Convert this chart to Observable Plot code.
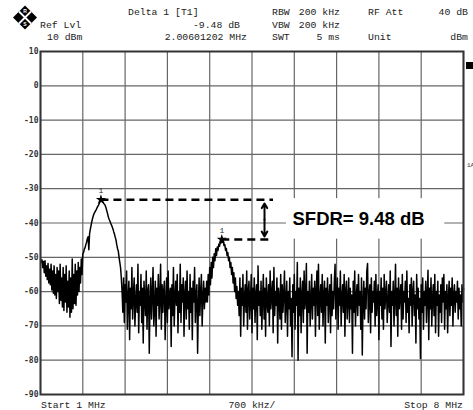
<!DOCTYPE html>
<html><head><meta charset="utf-8">
<script src="https://cdn.jsdelivr.net/npm/d3@7"></script>
<script src="https://cdn.jsdelivr.net/npm/@observablehq/plot@0.6"></script>
<style>
body{margin:0;background:#fff}
#chart{position:relative;width:473px;height:410px}
</style>
</head><body><div id="chart"></div>
<script>
// Sweep: 1 MHz to 8 MHz, 561 trace points
const startMHz = 1, stopMHz = 8, sweepPoints = 561;
// Trace levels (dBm), segment by segment
const leftSkirtLevels = [
 -50.5,-51.5,-50.8,-53,-51.2,-54.5,-51,-55.5,-52.5,-56.5,
 -51.8,-57.5,-53.5,-58,-52,-59.5,-54,-60.5,-52.5,-61,
 -55,-62,-53,-60,-54,-63.5,-52,-62.5,-56,-64.5,
 -53,-65.5,-55,-63,-52.5,-66,-57,-64.5,-54,-67.5,
 -56,-66,-50.5,-65,-55,-63.5,-52,-64,-54,-61,
 -51.5,-60,-53,-57.5,-50.5,-55];
const carrierLevels = [
 -49,-48.6,-47.6,-47.2,-46.3,-45.6,-44.6,-44,-47.8,-43,
 -41.8,-40.6,-39.5,-38.6,-37.8,-37.2,-36.8,-36.4,-36,-35.5,
 -35.1,-34.7,-34.2,-33.7,-33.2,-33.5,-33.8,-34,-34.4,-34.6,
 -35.1,-35.8,-36.6,-37.5,-38.4,-39,-39.5,-40.1,-40.6,-41.2,
 -41.8,-42.6,-43.3,-44.2,-45,-46.4,-47.5,-48.2,-50,-51.5,
 -53,-56];
const noiseLevelsA = [
 -60,-66,-56,-69,-58,-63,-54,-71,
 -62,-57,-74,-59,-65,-53,-68,-61,
 -56,-70,-63,-58,-66,-52,-72,-60,
 -64,-55,-69,-59,-75,-57,-62,-67,
 -54,-71,-60,-58,-78,-63,-56,-68,
 -61,-53,-70,-65,-57,-73,-59,-64,
 -55,-68,-62,-52,-71,-58,-66,-60,
 -57,-74,-63,-56,-69,-54,-65,-61,
 -59,-76,-58,-67,-53,-70,-62,-57,
 -64,-55,-72,-60,-66,-52,-69,-58,
 -63,-56,-73,-61,-57,-68,-54,-65,
 -60,-71,-55,-66,-59,-74,-57,-63,
 -53,-69,-61,-58,-78,-64,-56,-67,
 -60,-55,-70,-62,-57,-65,-59,-63];
const harmonicLevels = [
 -57,-63,-55,-61,-53,-58,-51.5,-56,-50,-53,
 -49,-51,-47.5,-49.5,-47,-48,-46.2,-46.8,-45.6,-45.8,
 -44.8,-45.6,-45.4,-46.6,-46.3,-48,-47.4,-49.5,-48.6,-51,
 -50,-53,-51.5,-55,-53,-57.5,-54.5,-60,-56,-62,
 -58.5,-64];
const noiseLevelsB = [
 -60,-67,-56,-73,-59,-64,-55,-70,-62,-58,
 -66,-54,-71,-60,-57,-68,-63,-55,-72,-59,
 -65,-56,-69,-61,-58,-74,-52.5,-64,-60,-67,
 -57,-71,-62,-55,-68,-59,-73,-56,-63,-66,
 -58,-70,-54,-65,-61,-57,-72,-53,-67,-60,
 -64,-56,-75,-59,-62,-68,-55,-71,-58,-66,
 -61,-54,-69,-63,-57,-73,-60,-65,-56,-70,
 -62,-79,-58,-66,-55,-71,-60,-64,-51.5,-80,
 -59,-67,-56,-72,-61,-57,-69,-54,-65,-62,
 -51.8,-78,-60,-66,-57,-70,-63,-55,-68,-59,
 -64,-57,-73,-60,-54,-67,-52,-71,-62,-58,
 -66,-55,-70,-61,-57,-75,-59,-64,-56,-69,
 -62,-58,-72,-55,-67,-60,-65,-57,-52,-68,
 -61,-56,-71,-59,-64,-54,-70,-62,-58,-66,
 -55,-73,-60,-57,-68,-63,-56,-69,-59,-65,
 -61,-78,-57,-66,-54,-70,-62,-58,-67,-55,
 -64,-60,-71,-56,-78.5,-63,-57,-68,-59,-65,
 -54,-51.8,-69,-61,-58,-72,-56,-66,-60,-63,
 -57,-70,-55,-67,-62,-58,-74,-60,-64,-56,
 -68,-59,-71,-55,-65,-61,-57,-69,-63,-58,
 -66,-54,-76,-60,-64,-57,-70,-62,-52,-67,
 -59,-73,-56,-65,-61,-58,-71,-55,-68,-60,
 -63,-57,-69,-54,-66,-62,-72,-58,-64,-56,
 -70,-60,-57,-67,-61,-75,-55,-65,-59,-68,
 -62,-79.5,-58,-66,-56,-71,-60,-64,-57,-69,
 -61,-53.8,-74,-59,-65,-56,-70,-62,-58,-67,
 -55,-72,-60,-64,-57,-73,-61,-66,-58,-69,
 -56,-63,-55,-71,-60,-65,-58,-72,-62,-57,
 -67,-59,-64,-56,-70,-61,-58,-66,-60,-63,
 -57,-68,-59,-65,-61,-70,-58,-63,-59];
const levels = [...leftSkirtLevels, ...carrierLevels, ...noiseLevelsA, ...harmonicLevels, ...noiseLevelsB];

const yTicks = [10,0,-10,-20,-30,-40,-50,-60,-70,-80,-90];
const xDivisions = [1,1.7,2.4,3.1,3.8,4.5,5.2,5.9,6.6,7.3,8];
const markerF = [2.0, 4.0];
const markerLevel = [-33.2, -44.8];
const markerLabel = ["1", "1"];
const sfdrText = "SFDR= 9.48 dB";
const headerCol1 = ["Ref Lvl", "10 dBm"];
const headerCol2 = ["Delta 1 [T1]", "-9.48 dB", "2.00601202 MHz"];
const headerCol3 = ["RBW", "VBW", "SWT"];
const headerCol4 = ["200 kHz", "200 kHz", "5 ms"];
const headerCol5 = ["RF Att", "", "Unit"];
const headerCol6 = ["40 dB", "", "dBm"];
const footer = ["Start 1 MHz", "700 kHz/", "Stop 8 MHz"];

const step = (stopMHz - startMHz) / (sweepPoints - 1);
const trace = levels.map((v, i) => ({f: startMHz + i * step, level: v}));
const markers = markerF.map((f, i) => ({f, level: markerLevel[i], label: markerLabel[i]}));

// annotation geometry (data coordinates)
const dashEnd = 4.856, arrowF = 4.707;
const box = [{x1: 5.07, x2: 7.69, y1: -32.9, y2: -44.7}];

const plot = Plot.plot({
  width: 473, height: 410,
  marginLeft: 40, marginRight: 10, marginTop: 51, marginBottom: 16,
  x: {domain: [startMHz, stopMHz], axis: null},
  y: {domain: [-90, 10], axis: null},
  style: {fontFamily: "Liberation Mono", fontSize: "8px", background: "white", overflow: "visible"},
  marks: [
    Plot.gridX(xDivisions, {stroke: "#666", strokeOpacity: 1, strokeWidth: 1.2}),
    Plot.gridY(yTicks, {stroke: "#666", strokeOpacity: 1, strokeWidth: 1.2}),
    Plot.rect(box, {x1: "x1", x2: "x2", y1: "y1", y2: "y2", fill: "white"}),
    Plot.line(trace, {x: "f", y: "level", stroke: "black", strokeWidth: 1.5}),
    Plot.frame({stroke: "#333", strokeWidth: 2}),
    Plot.axisY(yTicks, {tickSize: 0, tickPadding: 2, tickFormat: d => String(d), fontWeight: "bold", color: "#333", fontSize: 8, fontFamily: "DejaVu Sans Mono"}),
    Plot.ruleY(markers, {y: "level", x1: "f", x2: () => dashEnd, stroke: "black", strokeWidth: 2.6, strokeDasharray: "8,5"}),
    Plot.arrow([{a: -39, b: -34.3}, {a: -39, b: -43.9}], {x1: () => arrowF, x2: () => arrowF, y1: "a", y2: "b", stroke: "black", strokeWidth: 2, headLength: 8}),
    Plot.dot(markers, {x: "f", y: "level", symbol: "star", r: 3.2, fill: "black", stroke: "none"}),
    Plot.text(markers, {x: "f", y: "level", text: "label", dy: -9, fontSize: 8, fill: "#222"}),
    Plot.text([sfdrText], {x: () => 5.17, y: () => -38.8, text: d => d, textAnchor: "start", fontFamily: "Liberation Sans", fontWeight: "bold", fontSize: 18.5, fill: "black"})
  ]
});
document.getElementById("chart").appendChild(plot);

const svg = d3.select(plot);
const hdr = svg.append("g").attr("font-family", "Liberation Mono").attr("font-size", "9.8px").attr("fill", "#222").attr("text-anchor", "start");
const rowY = [14.5, 28, 40];
hdr.append("text").attr("x", 40).attr("y", rowY[1]).text(headerCol1[0]);
hdr.append("text").attr("x", 47).attr("y", rowY[2]).text(headerCol1[1]);
hdr.append("text").attr("x", 128).attr("y", rowY[0]).text(headerCol2[0]);
hdr.append("text").attr("x", 240).attr("y", rowY[1]).attr("text-anchor", "end").text(headerCol2[1]);
hdr.append("text").attr("x", 247).attr("y", rowY[2]).attr("text-anchor", "end").text(headerCol2[2]);
headerCol3.forEach((t, i) => hdr.append("text").attr("x", 272).attr("y", rowY[i]).text(t));
headerCol4.forEach((t, i) => hdr.append("text").attr("x", 340).attr("y", rowY[i]).attr("text-anchor", "end").text(t));
headerCol5.forEach((t, i) => hdr.append("text").attr("x", 368).attr("y", rowY[i]).text(t));
headerCol6.forEach((t, i) => hdr.append("text").attr("x", 468).attr("y", rowY[i]).attr("text-anchor", "end").text(t));
hdr.append("text").attr("x", 41).attr("y", 408).text(footer[0]);
hdr.append("text").attr("x", 252).attr("y", 408).attr("text-anchor", "middle").text(footer[1]);
hdr.append("text").attr("x", 463).attr("y", 408).attr("text-anchor", "end").text(footer[2]);

// logo
const logo = svg.append("g").attr("transform", "translate(25,17.5) rotate(45)");
logo.append("rect").attr("x", -8.5).attr("y", -8.5).attr("width", 17).attr("height", 17).attr("fill", "black");
logo.append("rect").attr("x", -8.5).attr("y", -0.9).attr("width", 17).attr("height", 1.8).attr("fill", "white");
logo.append("rect").attr("x", -0.9).attr("y", -8.5).attr("width", 1.8).attr("height", 17).attr("fill", "white");
const lg = svg.append("g").attr("font-family", "Liberation Sans").attr("font-weight", "bold").attr("font-size", "5px").attr("fill", "white").attr("text-anchor", "middle");
lg.append("text").attr("x", 25).attr("y", 13).text("R");
lg.append("text").attr("x", 25).attr("y", 26).text("S");
// side indicators
svg.append("rect").attr("x", 466).attr("y", 62).attr("width", 7).attr("height", 7).attr("fill", "black");
svg.append("text").attr("x", 467).attr("y", 167).attr("text-anchor", "start").attr("font-size", "6px").attr("font-family", "Liberation Mono").attr("fill", "#333").text("1A");
</script>
</body></html>
